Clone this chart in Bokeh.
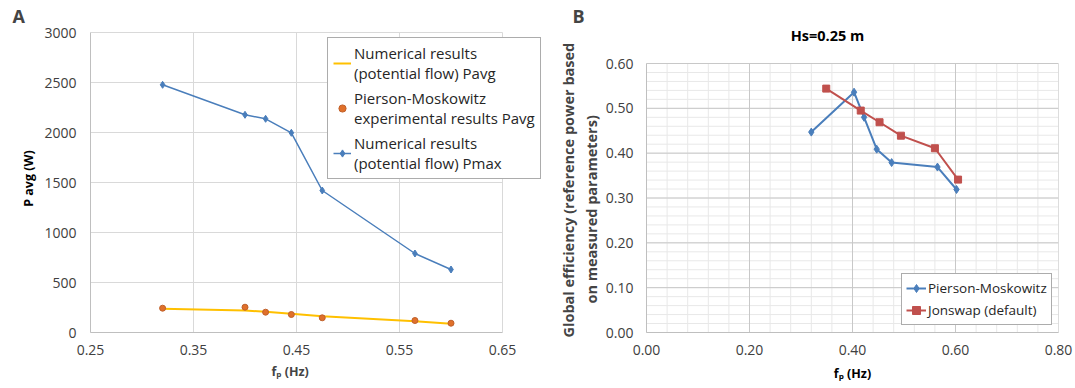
from bokeh.plotting import figure
from bokeh.layouts import row
from bokeh.models import Legend, LegendItem, FixedTicker, Range1d, Title, Label
from bokeh.embed import file_html
from bokeh.resources import INLINE

# ---------------- Panel A data ----------------
fp_a = [0.32, 0.40, 0.42, 0.445, 0.475, 0.565, 0.60]
pavg_numerical = [237, 220, 207, 187, 163, 113, 87]
pavg_experimental = [243, 253, 203, 180, 147, 120, 93]
pmax_numerical = [2477, 2177, 2137, 1997, 1420, 790, 630]
a_xticks = [0.25, 0.35, 0.45, 0.55, 0.65]
a_xlabels = ["0.25", "0.35", "0.45", "0.55", "0.65"]
a_yticks = [0, 500, 1000, 1500, 2000, 2500, 3000]
a_ylabels = ["0", "500", "1000", "1500", "2000", "2500", "3000"]

# ---------------- Panel B data ----------------
fp_pm = [0.32, 0.403, 0.4225, 0.447, 0.476, 0.565, 0.602]
eff_pm = [0.447, 0.536, 0.480, 0.409, 0.379, 0.369, 0.319]
fp_js = [0.349, 0.416, 0.4525, 0.494, 0.560, 0.605]
eff_js = [0.544, 0.495, 0.469, 0.439, 0.411, 0.341]
b_xticks = [0.0, 0.2, 0.4, 0.6, 0.8]
b_xlabels = ["0.00", "0.20", "0.40", "0.60", "0.80"]
b_yticks = [0.0, 0.1, 0.2, 0.3, 0.4, 0.5, 0.6]
b_ylabels = ["0.00", "0.10", "0.20", "0.30", "0.40", "0.50", "0.60"]
b_xminor = [round(i * 0.04, 4) for i in range(21)]
b_yminor = [round(i * 0.02, 4) for i in range(31)]

FONT = "Open Sans"
TICK_COLOR = "#404040"
BLUE = "#4a7ebb"
RED = "#c0504d"
YELLOW = "#ffc000"
ORANGE = "#e0702a"
TOP = 24      # shared top border (row aligns frames)
BOTTOM = 56   # shared bottom border


def style_axes(p, label_size):
    for ax in (p.xaxis[0], p.yaxis[0]):
        ax.major_label_text_font = FONT
        ax.major_label_text_font_size = "14px"
        ax.major_label_text_color = TICK_COLOR
        ax.axis_label_text_font = FONT
        ax.axis_label_text_font_size = label_size
        ax.axis_label_text_font_style = "bold"
        ax.axis_label_text_color = "#000000"
        ax.axis_line_color = "#bfbfbf"
        ax.major_tick_line_color = None
        ax.minor_tick_line_color = None
        ax.major_tick_out = 0
        ax.major_tick_in = 0
    p.background_fill_color = "white"
    p.border_fill_color = "white"
    p.outline_line_color = None
    p.xgrid.visible = False
    p.ygrid.visible = False


def grid_lines(p, xs, ys, color):
    # vertical lines at xs spanning ys extent, horizontal lines at ys spanning xs extent
    p.segment(x0=xs, y0=[ys[0]] * len(xs), x1=xs, y1=[ys[-1]] * len(xs),
              line_color=color, line_width=1)
    p.segment(x0=[xs[0]] * len(ys), y0=ys, x1=[xs[-1]] * len(ys), y1=ys,
              line_color=color, line_width=1)


# ================= Panel A =================
pA = figure(width=555, height=388, output_backend="svg", toolbar_location=None,
            x_range=Range1d(0.25, 0.6966), y_range=Range1d(0, 3080),
            min_border_left=90, min_border_right=5, min_border_top=TOP, min_border_bottom=BOTTOM)
style_axes(pA, "12.5px")
pA.xaxis.ticker = FixedTicker(ticks=a_xticks)
pA.xaxis.major_label_overrides = dict(zip(a_xticks, a_xlabels))
pA.xaxis.bounds = (a_xticks[0], a_xticks[-1])
pA.yaxis.ticker = FixedTicker(ticks=a_yticks)
pA.yaxis.major_label_overrides = dict(zip(a_yticks, a_ylabels))
pA.yaxis.bounds = (a_yticks[0], a_yticks[-1])
pA.yaxis.axis_label = "P avg (W)"
pA.xaxis.major_label_standoff = 12
pA.yaxis.major_label_standoff = 14
pA.yaxis.axis_label_standoff = 4
grid_lines(pA, a_xticks, a_yticks, "#d9d9d9")

pA.add_layout(Title(text="fₚ (Hz)", align="left", offset=181, standoff=7,
                    text_font=FONT, text_font_size="12.5px", text_font_style="bold"), "below")

r_num = pA.line(fp_a, pavg_numerical, line_color=YELLOW, line_width=2)
r_exp = pA.scatter(fp_a, pavg_experimental, marker="circle", size=6,
                   fill_color=ORANGE, line_color="#c0602a")
r_max_l = pA.line(fp_a, pmax_numerical, line_color=BLUE, line_width=1.5)
r_max_p = pA.scatter(fp_a, pmax_numerical, marker="diamond", size=7,
                     fill_color=BLUE, line_color=BLUE)

legA = Legend(items=[
    LegendItem(label="Numerical results\n(potential flow) Pavg", renderers=[r_num]),
    LegendItem(label="Pierson-Moskowitz\nexperimental results Pavg", renderers=[r_exp]),
    LegendItem(label="Numerical results\n(potential flow) Pmax", renderers=[r_max_l, r_max_p]),
], location=(237, 153))
legA.label_text_font = FONT
legA.label_text_font_size = "15px"
legA.label_text_line_height = 1.12
legA.label_text_color = "#262626"
legA.border_line_color = "#595959"
legA.border_line_width = 1
legA.background_fill_alpha = 1.0
legA.padding = 5
legA.spacing = 5
legA.margin = 0
legA.glyph_width = 18
legA.label_standoff = 3
pA.add_layout(legA, "center")

pA.title.text = "A"
pA.title.align = "left"
pA.title.offset = -78
pA.title.standoff = -6
pA.title.text_font = FONT
pA.title.text_font_size = "18px"
pA.title.text_font_style = "bold"

# ================= Panel B =================
pB = figure(width=520, height=388, output_backend="svg", toolbar_location=None,
            x_range=Range1d(0, 0.8), y_range=Range1d(0, 0.687),
            min_border_left=87, min_border_right=17, min_border_top=TOP, min_border_bottom=BOTTOM)
style_axes(pB, "12.5px")
pB.xaxis.ticker = FixedTicker(ticks=b_xticks)
pB.xaxis.major_label_overrides = dict(zip(b_xticks, b_xlabels))
pB.yaxis.ticker = FixedTicker(ticks=b_yticks)
pB.yaxis.major_label_overrides = dict(zip(b_yticks, b_ylabels))
pB.yaxis.bounds = (b_yticks[0], b_yticks[-1])
pB.xaxis.axis_label = "fₚ (Hz)"
pB.xaxis.major_label_standoff = 12
pB.xaxis.axis_label_standoff = 7
pB.yaxis.major_label_standoff = 13
grid_lines(pB, b_xminor, b_yminor, "#e8e8e8")
grid_lines(pB, b_xticks, b_yticks, "#c8c8c8")

# two-line y axis title, placed as side titles so it can be positioned along the axis
pB.add_layout(Title(text="on measured parameters)", align="left", offset=29, standoff=3,
                    text_font=FONT, text_font_size="14.5px", text_font_style="bold"), "left")
pB.add_layout(Title(text="Global efficiency (reference power based", align="left", offset=-5,
                    standoff=2, text_font=FONT, text_font_size="14.5px", text_font_style="bold"), "left")

pB.title.text = "B"
pB.title.align = "left"
pB.title.offset = -74
pB.title.standoff = -6
pB.title.text_font = FONT
pB.title.text_font_size = "18px"
pB.title.text_font_style = "bold"

pB.add_layout(Label(x=181, y=297, x_units="screen", y_units="screen", text="Hs=0.25 m",
                    text_align="center", text_baseline="middle", text_font=FONT,
                    text_font_size="14.5px", text_font_style="bold", text_color="#000000"))

r_pm_l = pB.line(fp_pm, eff_pm, line_color=BLUE, line_width=2)
r_pm_p = pB.scatter(fp_pm, eff_pm, marker="diamond", size=8, fill_color=BLUE, line_color=BLUE)
r_js_l = pB.line(fp_js, eff_js, line_color=RED, line_width=2)
r_js_p = pB.scatter(fp_js, eff_js, marker="square", size=7, fill_color=RED, line_color=RED)

legB = Legend(items=[
    LegendItem(label="Pierson-Moskowitz", renderers=[r_pm_l, r_pm_p]),
    LegendItem(label="Jonswap (default)", renderers=[r_js_l, r_js_p]),
], location=(255, 7))
legB.label_text_font = FONT
legB.label_text_font_size = "13.5px"
legB.label_text_color = "#262626"
legB.border_line_color = "#595959"
legB.border_line_width = 1
legB.background_fill_alpha = 1.0
legB.padding = 4
legB.spacing = 2
legB.margin = 0
legB.glyph_width = 20
legB.label_standoff = 2
pB.add_layout(legB, "center")

layout = row(pA, pB, spacing=0)
open("out.html", "w").write(file_html(layout, INLINE))
